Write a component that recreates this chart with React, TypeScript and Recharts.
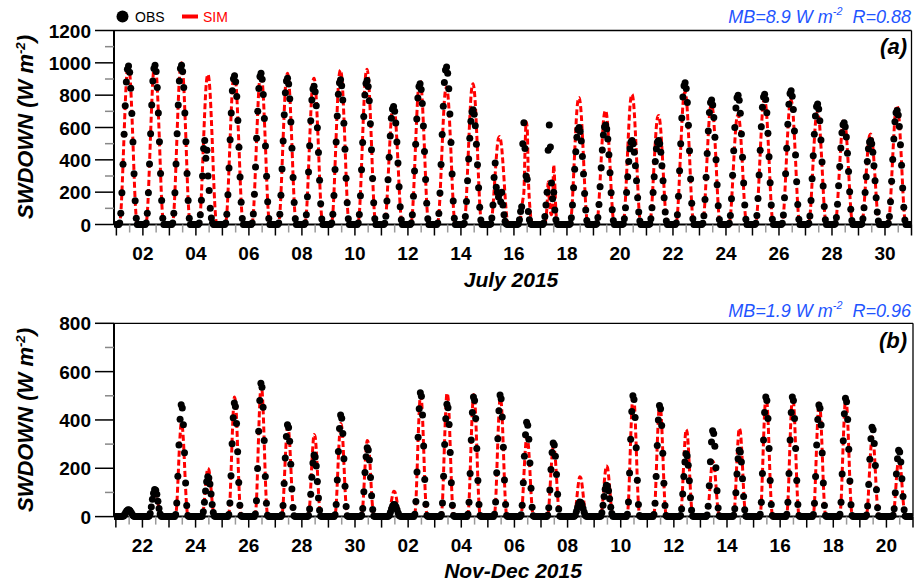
import { ComposedChart, Line, XAxis, YAxis, ReferenceLine } from 'recharts';

// July 2015, one entry per day (Jul 1 .. Jul 30), W m-2 at the daily maximum
const julyTickLabels = ['01', '02', '03', '04', '05', '06', '07', '08', '09', '10', '11', '12', '13', '14', '15', '16',
  '17', '18', '19', '20', '21', '22', '23', '24', '25', '26', '27', '28', '29', '30', '31'];
const julySimPeak = [985, 990, 1000, 928, 930, 930, 935, 905, 955, 960, 740, 890, 850, 870, 545, 0, 0,
  785, 705, 805, 675, 820, 745, 680, 775, 770, 695, 650, 560, 735];
const julyObsPeak = [980, 985, 985, 0, 920, 935, 905, 855, 895, 890, 730, 870, 975, 710, 0, 0, 0,
  600, 615, 520, 520, 877, 770, 800, 805, 827, 745, 630, 520, 705];
// shape of a clear July day, hour 0..23
const julyProfile = [0, 0, 0, 0.01, 0.07, 0.2, 0.38, 0.57, 0.75, 0.9, 0.98, 1.0,
  0.96, 0.86, 0.7, 0.52, 0.32, 0.15, 0.04, 0, 0, 0, 0, 0];
// cloudy days read hour by hour
const julySimHourly: Record<number, number[]> = {
  15: [0, 0, 0, 0, 0, 5, 40, 100, 150, 200, 450, 635, 600, 300, 150, 60, 15, 0, 0, 0, 0, 0, 0, 0],
  16: [0, 0, 0, 0, 5, 40, 120, 265, 150, 80, 60, 120, 368, 250, 80, 20, 0, 0, 0, 0, 0, 0, 0, 0],
};
const julyObsHourly: Record<number, number[]> = {
  3: [0, 0, 0, 10, 60, 150, 300, 470, 520, 410, 460, 300, 210, 100, 40, 10, 0, 0, 0, 0, 0, 0, 0, 0],
  14: [0, 0, 0, 5, 40, 120, 290, 380, 230, 200, 170, 190, 140, 200, 120, 60, 20, 5, 0, 0, 0, 0, 0, 0],
  15: [0, 0, 0, 0, 5, 30, 80, 110, 500, 630, 470, 300, 280, 80, 30, 5, 0, 0, 0, 0, 0, 0, 0, 0],
  16: [0, 0, 0, 10, 50, 120, 200, 460, 615, 480, 256, 160, 200, 90, 30, 5, 0, 0, 0, 0, 0, 0, 0, 0],
};

// Nov 21 .. Dec 20 2015
const novTickLabels = ['21', '22', '23', '24', '25', '26', '27', '28', '29', '30', '01', '02', '03', '04', '05', '06',
  '07', '08', '09', '10', '11', '12', '13', '14', '15', '16', '17', '18', '19', '20', '21'];
const novSimPeak = [25, 100, 385, 200, 495, 540, 370, 340, 385, 315, 105, 500, 510, 505, 490, 330, 290, 165,
  210, 505, 465, 360, 230, 365, 495, 495, 470, 485, 330, 240];
const novObsPeak = [28, 112, 463, 165, 470, 552, 380, 255, 420, 285, 50, 513, 465, 495, 503, 390, 305, 60,
  130, 500, 460, 260, 355, 275, 495, 495, 462, 490, 370, 275];
const novProfile = [0, 0, 0, 0, 0, 0, 0.02, 0.12, 0.36, 0.64, 0.87, 1.0,
  0.97, 0.82, 0.57, 0.3, 0.1, 0.01, 0, 0, 0, 0, 0, 0];

const julyYTicks = [0, 100, 200, 300, 400, 500, 600, 700, 800, 900, 1000, 1100, 1200];
const novYTicks = [0, 100, 200, 300, 400, 500, 600, 700, 800];
const dayTicks = Array.from({ length: 61 }, (_, i) => i / 2);

function buildRows(simPeak: number[], obsPeak: number[], profile: number[],
  simHourly: Record<number, number[]>, obsHourly: Record<number, number[]>) {
  const rows: { t: number; sim: number; obs: number }[] = [];
  simPeak.forEach((_, d) => {
    profile.forEach((p, h) => {
      rows.push({
        t: d + h / 24,
        sim: simHourly[d] ? simHourly[d][h] : Math.round(simPeak[d] * p),
        obs: obsHourly[d] ? obsHourly[d][h] : Math.round(obsPeak[d] * p),
      });
    });
  });
  return rows;
}

const julyRows = buildRows(julySimPeak, julyObsPeak, julyProfile, julySimHourly, julyObsHourly);
const novRows = buildRows(novSimPeak, novObsPeak, novProfile, {}, {});

const FONT = '"Liberation Sans", Arial, Helvetica, sans-serif';
const BLUE = '#1f55ff';

function XTick(props: any) {
  const { x, y, payload, labels } = props;
  const t = payload.value;
  const whole = Number.isInteger(t);
  return (
    <g>
      <line x1={x} x2={x} y1={y} y2={y + (whole ? 11 : 8)} stroke={whole ? '#000' : '#999'} strokeWidth={1.5} />
      {whole && t % 2 === 1 && (
        <text x={x} y={y + 35} textAnchor="middle" fontSize={19} fontWeight="bold" fill="#000" fontFamily={FONT}>
          {labels[t]}
        </text>
      )}
    </g>
  );
}

function YTick(props: any) {
  const { x, y, payload } = props;
  const v = payload.value;
  const major = v % 200 === 0;
  return (
    <g>
      <line x1={x - (major ? 19 : 9)} x2={x} y1={y} y2={y} stroke={major ? '#000' : '#888'} strokeWidth={1.5} />
      {major && (
        <text x={x - 23} y={y + 7} textAnchor="end" fontSize={19} fontWeight="bold" fill="#000" fontFamily={FONT}>
          {v}
        </text>
      )}
    </g>
  );
}

function Panel({ rows, yMax, yTicks, labels, top, bottom, right, start }: any) {
  return (
    <div style={{ position: 'absolute', left: 0, top: 0 }}>
      <ComposedChart width={919} height={584} data={rows}
        margin={{ top, right: 919 - right, bottom: 584 - bottom - 40, left: 14 }}>
        <XAxis dataKey="t" type="number" domain={[start, 30]} ticks={dayTicks} interval={0} height={40}
          allowDataOverflow tickSize={0} tickMargin={0} axisLine={{ stroke: '#000', strokeWidth: 2 }} tickLine={false}
          tick={(p: any) => <XTick {...p} labels={labels} />} />
        <YAxis type="number" domain={[0, yMax]} ticks={yTicks} interval={0} width={100}
          tickSize={0} tickMargin={0} axisLine={{ stroke: '#000', strokeWidth: 2 }} tickLine={false}
          tick={(p: any) => <YTick {...p} />} />
        <ReferenceLine y={yMax} stroke="#000" strokeWidth={1.3} />
        <ReferenceLine x={30} stroke="#000" strokeWidth={1.3} />
        <Line dataKey="obs" stroke="none" isAnimationActive={false}
          dot={{ r: 3.5, fill: '#000', stroke: 'none' }} activeDot={false} />
        <Line dataKey="sim" type="monotone" stroke="#ff0000" strokeWidth={3} strokeDasharray="6 3"
          dot={false} activeDot={false} isAnimationActive={false} />
      </ComposedChart>
    </div>
  );
}

function Unit({ pre, post }: { pre: string; post: string }) {
  return (
    <>
      {pre}
      <tspan dy={-8} fontSize="0.6em">-2</tspan>
      <tspan dy={8}>{post}</tspan>
    </>
  );
}

export default function App() {
  return (
    <div style={{ position: 'fixed', left: 0, top: 0, width: 919, height: 584, background: '#fff', fontFamily: FONT }}>
      <Panel rows={julyRows} yMax={1200} yTicks={julyYTicks} labels={julyTickLabels}
        top={30.5} bottom={224.5} right={911.5} start={-0.09} />
      <Panel rows={novRows} yMax={800} yTicks={novYTicks} labels={novTickLabels}
        top={323.3} bottom={516.6} right={913} start={-0.07} />
      <svg width={919} height={584} style={{ position: 'absolute', left: 0, top: 0, pointerEvents: 'none' }}>
        {/* legend */}
        <circle cx={122.5} cy={16.5} r={6} fill="#000" />
        <text x={135} y={21.5} fontSize={14} fill="#000">OBS</text>
        <line x1={182} x2={198} y1={16.5} y2={16.5} stroke="#ff0000" strokeWidth={4} />
        <text x={203} y={21.5} fontSize={14} fill="#ff0000">SIM</text>

        {/* panel a */}
        <text x={911} y={23} textAnchor="end" fontSize={18} fontStyle="italic" fill={BLUE}>
          <Unit pre="MB=8.9 W m" post={'\u00a0\u00a0R=0.88'} />
        </text>
        <text x={907} y={54} textAnchor="end" fontSize={22} fontStyle="italic" fontWeight="bold">(a)</text>
        <text transform="translate(33,127) rotate(-90)" textAnchor="middle" fontSize={22} fontStyle="italic" fontWeight="bold">
          <Unit pre="SWDOWN (W m" post=")" />
        </text>
        <text x={511} y={287} textAnchor="middle" fontSize={21} fontStyle="italic" fontWeight="bold">July 2015</text>

        {/* panel b */}
        <text x={911} y={317} textAnchor="end" fontSize={18} fontStyle="italic" fill={BLUE}>
          <Unit pre="MB=1.9 W m" post={'\u00a0\u00a0R=0.96'} />
        </text>
        <text x={907} y={348} textAnchor="end" fontSize={22} fontStyle="italic" fontWeight="bold">(b)</text>
        <text transform="translate(33,420) rotate(-90)" textAnchor="middle" fontSize={22} fontStyle="italic" fontWeight="bold">
          <Unit pre="SWDOWN (W m" post=")" />
        </text>
        <text x={513} y={578} textAnchor="middle" fontSize={21} fontStyle="italic" fontWeight="bold">Nov-Dec 2015</text>
      </svg>
    </div>
  );
}
